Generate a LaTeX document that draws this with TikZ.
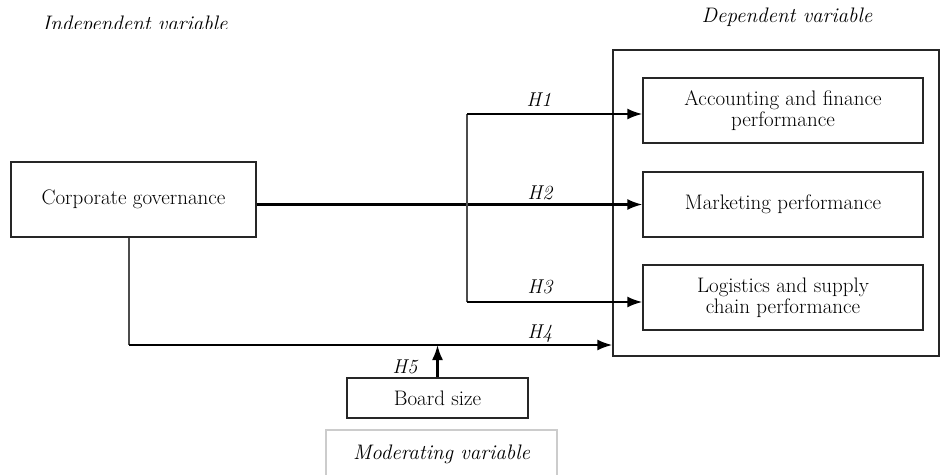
\documentclass[tikz,border=0pt]{standalone}
\usepackage{fontspec}
\usetikzlibrary{arrows.meta}
\begin{document}
\begin{tikzpicture}[x=1pt,y=-1pt,
  box/.style={draw=black!85,line width=1.3pt,inner sep=0pt,align=center,font=\fontsize{21}{21}\selectfont},
  ttl/.style={font=\fontsize{21}{22}\selectfont\itshape,inner sep=0pt},
  lbl/.style={font=\fontsize{20}{20}\selectfont\itshape,inner sep=0pt,anchor=base},
  arr/.style={line width=2.2pt,-{Latex[length=15pt,width=11pt]}},
  thin/.style={line width=1.3pt,draw=black!70}]
\useasboundingbox (0,0) rectangle (941,474);
% titles
\begin{scope}
\clip (0,0) rectangle (300,28);
\node[ttl,anchor=base] (indep) at (135,30.5) {Independent variable};
\end{scope}
\node[ttl] (dep) at (787,17) {Dependent variable};
% nodes
\node[box,minimum width=245pt,minimum height=75pt] (cg) at (133.5,199.5) {Corporate governance};
\node[box,minimum width=326pt,minimum height=306pt] (big) at (776,203) {};
\node[box,minimum width=280pt,minimum height=65pt] (acc) at (783,110.5) {Accounting and finance\\performance};
\node[box,minimum width=280pt,minimum height=65pt] (mk) at (783,204.5) {Marketing performance};
\node[box,minimum width=280pt,minimum height=65pt] (log) at (783,297.5) {Logistics and supply\\chain performance};
\node[box,minimum width=181pt,minimum height=40pt] (board) at (437.5,398) {Board size};
\begin{scope}
\clip (0,0) rectangle (941,474);
\node[box,draw=black!20,minimum width=231pt,minimum height=48pt,font=\fontsize{21}{22}\selectfont\itshape] (mod) at (441.5,454) {Moderating variable};
\end{scope}
% coordinates
\coordinate (b1) at (467,114);
\coordinate (b3) at (467,302);
\coordinate (c4) at (129,345);
% connectors
\draw[arr] (cg.east |- mk) -- (mk.west);
\draw[thin] (b1) -- (b3);
\draw[arr] (b1) -- (acc.west |- b1);
\draw[arr] (b3) -- (log.west |- b3);
\draw[thin] (cg.south -| c4) -- (c4);
\draw[arr] (c4) -- (big.west |- c4);
\draw[arr] (board.north) -- (board.north |- c4);
% labels
\node[lbl] (h1) at (539,106) {H1};
\node[lbl] (h2) at (540,199) {H2};
\node[lbl] (h3) at (540,293) {H3};
\node[lbl] (h4) at (540,338) {H4};
\node[lbl] (h5) at (405,373) {H5};
\end{tikzpicture}
\end{document}
